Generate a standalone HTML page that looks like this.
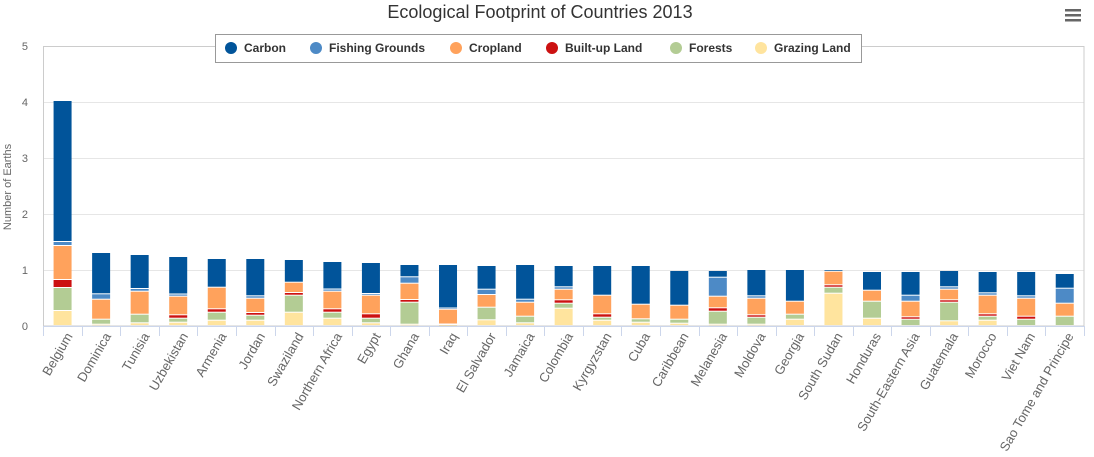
<!DOCTYPE html>
<html><head><meta charset="utf-8"><style>
html,body{margin:0;padding:0;background:#fff;width:1094px;height:457px;overflow:hidden}
svg{font-family:"Liberation Sans",sans-serif}
</style></head><body>
<svg id="c" width="1094" height="457" xmlns="http://www.w3.org/2000/svg">
<text x="540" y="18" text-anchor="middle" font-size="18" fill="#333">Ecological Footprint of Countries 2013</text>
<g fill="#666"><rect x="1065" y="9" width="16" height="2.5"/><rect x="1065" y="14" width="16" height="2.5"/><rect x="1065" y="19" width="16" height="2.5"/></g>
<g stroke="#e6e6e6" stroke-width="1">
<line x1="43" x2="1084" y1="270.5" y2="270.5"/><line x1="43" x2="1084" y1="214.5" y2="214.5"/>
<line x1="43" x2="1084" y1="158.5" y2="158.5"/><line x1="43" x2="1084" y1="102.5" y2="102.5"/></g>
<rect x="43.5" y="46.5" width="1040.5" height="279.5" fill="none" stroke="#ccc"/>
<line x1="43" x2="1084" y1="326.5" y2="326.5" stroke="#ccd6eb"/>
<g font-size="11" fill="#666" text-anchor="end">
<text x="28" y="330">0</text><text x="28" y="274">1</text><text x="28" y="218">2</text><text x="28" y="162">3</text><text x="28" y="106">4</text><text x="28" y="50">5</text></g>
<text transform="translate(11,187) rotate(-90)" text-anchor="middle" font-size="11" fill="#666">Number of Earths</text>
<g id="bars"></g>
<g id="ticks" stroke="#ccd6eb"></g>
<g font-size="13" fill="#666" text-anchor="end" id="labels">
<text transform="translate(73,336) rotate(-60)">Belgium</text>
<text transform="translate(111.5,336) rotate(-60)">Dominica</text>
<text transform="translate(150,336) rotate(-60)">Tunisia</text>
<text transform="translate(188.5,336) rotate(-60)">Uzbekistan</text>
<text transform="translate(227,336) rotate(-60)">Armenia</text>
<text transform="translate(265.5,336) rotate(-60)">Jordan</text>
<text transform="translate(304,336) rotate(-60)">Swaziland</text>
<text transform="translate(342.5,336) rotate(-60)">Northern Africa</text>
<text transform="translate(381,336) rotate(-60)">Egypt</text>
<text transform="translate(419.5,336) rotate(-60)">Ghana</text>
<text transform="translate(458,336) rotate(-60)">Iraq</text>
<text transform="translate(496.5,336) rotate(-60)">El Salvador</text>
<text transform="translate(535,336) rotate(-60)">Jamaica</text>
<text transform="translate(573.5,336) rotate(-60)">Colombia</text>
<text transform="translate(612,336) rotate(-60)">Kyrgyzstan</text>
<text transform="translate(650.5,336) rotate(-60)">Cuba</text>
<text transform="translate(689,336) rotate(-60)">Caribbean</text>
<text transform="translate(727.5,336) rotate(-60)">Melanesia</text>
<text transform="translate(766,336) rotate(-60)">Moldova</text>
<text transform="translate(804.5,336) rotate(-60)">Georgia</text>
<text transform="translate(843,336) rotate(-60)">South Sudan</text>
<text transform="translate(881.5,336) rotate(-60)">Honduras</text>
<text transform="translate(920,336) rotate(-60)">South-Eastern Asia</text>
<text transform="translate(958.5,336) rotate(-60)">Guatemala</text>
<text transform="translate(997,336) rotate(-60)">Morocco</text>
<text transform="translate(1035.5,336) rotate(-60)">Viet Nam</text>
<text transform="translate(1074,336) rotate(-60)">Sao Tome and Principe</text>
</g>
<rect x="215.5" y="34.5" width="646" height="28" fill="#fff" stroke="#999"/>
<g font-size="12" font-weight="bold" fill="#333">
<circle cx="231" cy="48" r="6" fill="#01549a"/><text x="244" y="52">Carbon</text>
<circle cx="316" cy="48" r="6" fill="#4d8ac6"/><text x="329" y="52">Fishing Grounds</text>
<circle cx="456" cy="48" r="6" fill="#ffa25c"/><text x="469" y="52">Cropland</text>
<circle cx="552" cy="48" r="6" fill="#cc1111"/><text x="565" y="52">Built-up Land</text>
<circle cx="676" cy="48" r="6" fill="#b3cc94"/><text x="689" y="52">Forests</text>
<circle cx="761" cy="48" r="6" fill="#ffe49e"/><text x="774" y="52">Grazing Land</text>
</g>
</svg>
<script>
var cols=["#ffe49e","#b3cc94","#cc1111","#ffa25c","#4d8ac6","#01549a"];
var d=[[311,288,280,246,242,101],[324.7,319.7,319.7,299.7,294.3,253],[323.3,314.7,314.7,291.7,289,255],[322.7,318.7,315.3,296.7,294.5,257],[320.7,312.7,309.3,287.7,287.7,259],[320.7,315.7,313,298.7,296.3,259],[312.7,295.7,293,282.7,282.7,260],[318.7,312.7,309.3,291.7,289.5,262],[323.3,318.7,314.3,295.7,294,263],[324.7,302.7,300,283.7,277.3,265],[325,324.5,324.5,309.7,308.5,265],[320.3,307.7,307.7,295,289.7,266],[323.3,316.7,316.7,302.7,299.7,265],[308.7,303.7,300.3,289.7,287.3,266],[320.7,317.7,314.3,295.7,295.7,266],[322.7,319.3,319.3,304.7,304.7,266],[323.7,319.7,319.7,305.7,305.7,271],[324.7,311.7,308.3,296.7,277.7,271],[324.7,317.7,315.3,298.7,296.3,270],[319.7,314.7,314.7,301.7,301.7,270],[293.7,287.7,285.3,271.7,271.7,270],[318.7,301.7,301.7,290.7,290.7,272],[326,319.7,317.3,301.7,295.7,272],[321.3,302.7,300.3,289.7,287.3,271],[320.7,316.7,314.3,295.7,293.3,272],[326,319.7,316.7,298.7,296.3,272],[326,316.7,316.7,303.7,288.7,274]];
var ns="http://www.w3.org/2000/svg",g=document.getElementById("bars"),tk=document.getElementById("ticks");
var w=(1084-43.3)/27;
for(var i=0;i<d.length;i++){var cx=43.3+w*(i+0.5);var b=326;
for(var j=0;j<6;j++){var t=d[i][j];if(b-t>0.8){var r=document.createElementNS(ns,"rect");r.setAttribute("x",cx-9);r.setAttribute("width",18);r.setAttribute("y",t);r.setAttribute("height",Math.max(b-t-1,0.5));r.setAttribute("fill",cols[j]);g.appendChild(r);}if(t<b)b=t;}}
for(var k=0;k<=27;k++){var x=Math.round(43.3+w*k)+0.5;var l=document.createElementNS(ns,"line");l.setAttribute("x1",x);l.setAttribute("x2",x);l.setAttribute("y1",326);l.setAttribute("y2",336);tk.appendChild(l);}
</script>
</body></html>
